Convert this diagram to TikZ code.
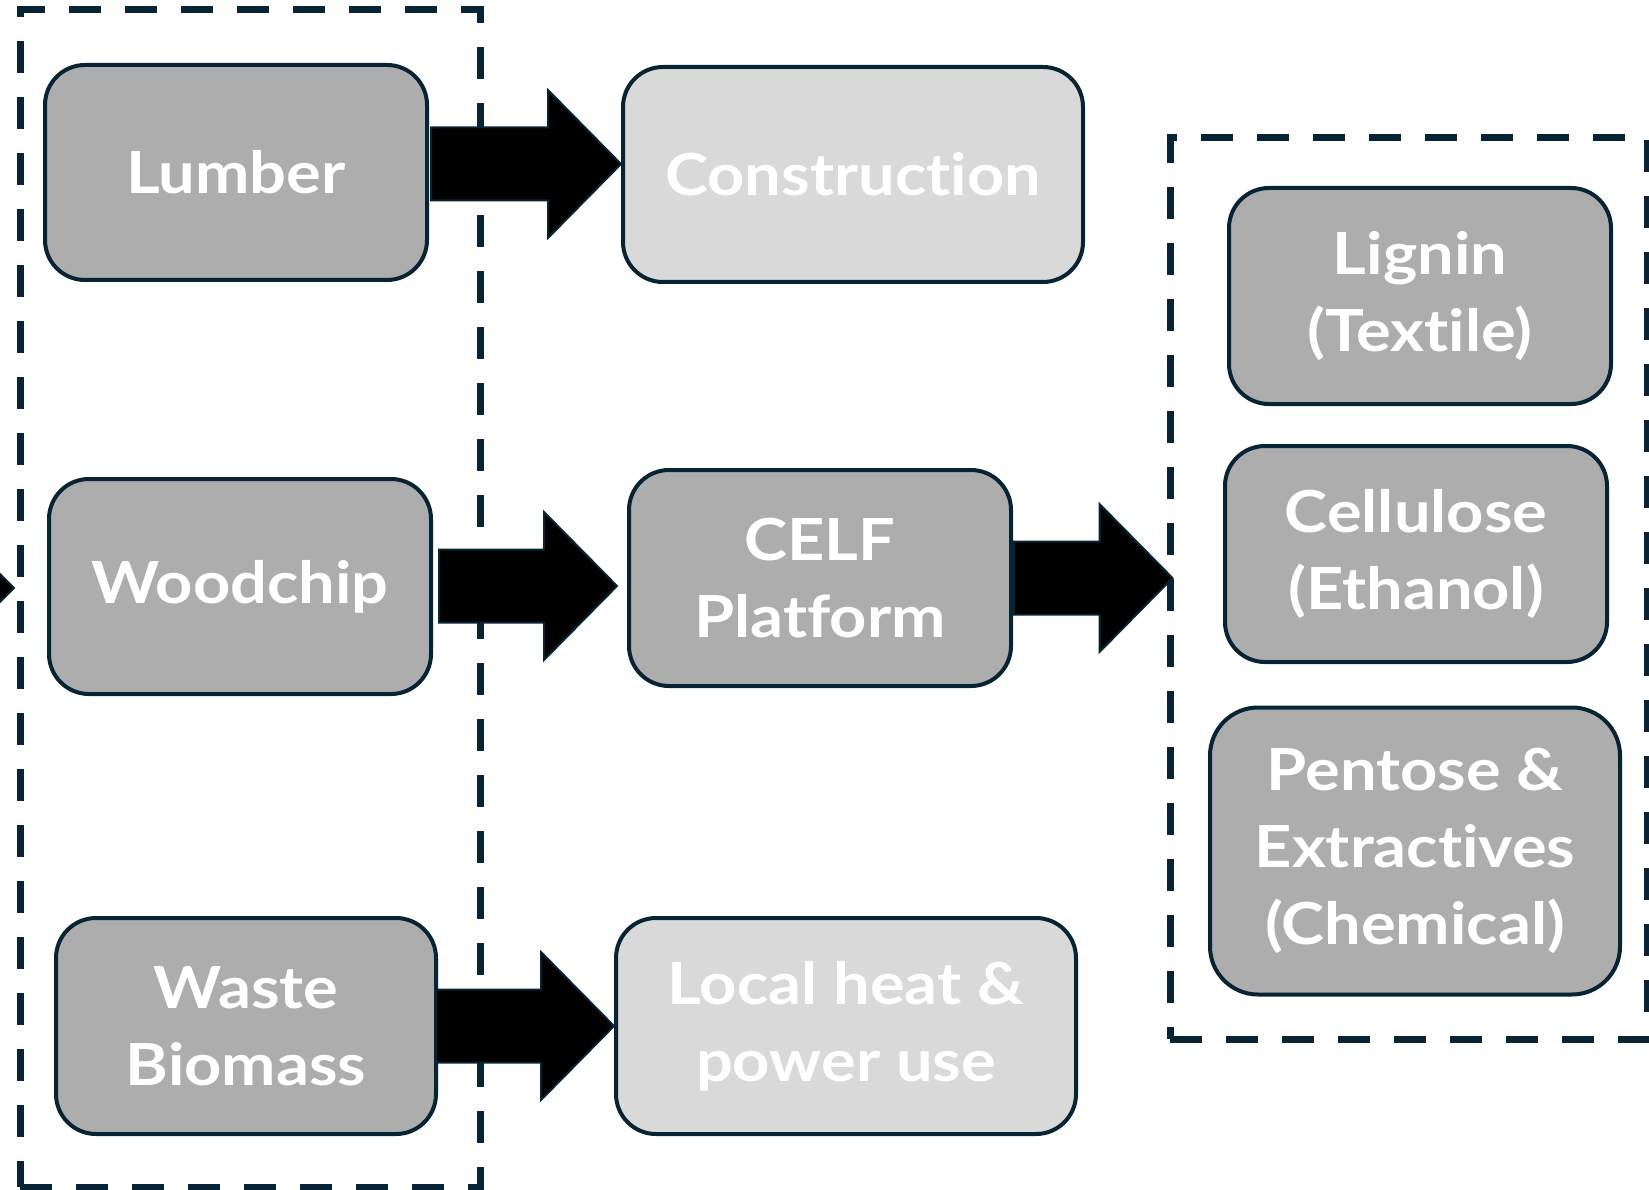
\documentclass[tikz,border=0pt]{standalone}
\usepackage{fontspec}
\setmainfont{Lato}[FakeStretch=1.12, Ligatures={NoCommon,NoRare}]
\usetikzlibrary{calc}
\definecolor{navy}{RGB}{8,36,52}
\definecolor{boxgray}{RGB}{173,173,173}
\definecolor{boxlight}{RGB}{217,217,217}
\tikzset{
 box/.style={draw=navy, line width=4pt, rounded corners=40pt, fill=boxgray, text=white,
   font=\bfseries\fontsize{58}{77}\selectfont, align=center, inner sep=0pt},
 lightbox/.style={box, fill=boxlight},
 groupbox/.style={draw=navy, line width=7pt, dash pattern=on 32pt off 24pt, inner sep=0pt},
 barrow/.style={fill=black, draw=navy, line width=2pt, line join=miter}
}
% #1 source, #2 target, #3 y centre, #4 tail shift, #5 tip shift
\newcommand\blockarr[5]{%
 \draw[barrow] ($(#1.east |- 0,#3-36.5)+(#4,0)$)
   -- ($(#2.west |- 0,#3-36.5)+(#5-73,0)$)
   -- ($(#2.west |- 0,#3-74)+(#5-73,0)$)
   -- ($(#2.west |- 0,#3)+(#5,0)$)
   -- ($(#2.west |- 0,#3+74)+(#5-73,0)$)
   -- ($(#2.west |- 0,#3+36.5)+(#5-73,0)$)
   -- ($(#1.east |- 0,#3+36.5)+(#4,0)$) -- cycle;}
\begin{document}
\begin{tikzpicture}[x=1pt,y=-1pt]
\useasboundingbox (0,0) rectangle (1649,1190);
\clip (0,0) rectangle (1649,1190);
% group frames
\node[groupbox, minimum width=460pt, minimum height=1177pt] (lgroup) at (250,598.5) {};
\node[groupbox, minimum width=477pt, minimum height=901pt] (rgroup) at (1408.5,588.5) {};
% boxes
\node[box, minimum width=382pt, minimum height=215pt] (lumber) at (236,172.5) {Lumber};
\node[lightbox, minimum width=460pt, minimum height=215pt] (constr) at (853,174.5) {Construction};
\node[box, minimum width=382pt, minimum height=215pt] (wood) at (240,586.5) {Woodchip};
\node[box, minimum width=382pt, minimum height=216pt] (celf) at (820,578) {CELF\\Platform};
\node[box, minimum width=380pt, minimum height=216pt] (waste) at (246,1026) {Waste\\Biomass};
\node[lightbox, minimum width=460pt, minimum height=216pt] (local) at (846,1026) {Local heat \&\\power use};
\node[box, minimum width=382pt, minimum height=216pt] (lignin) at (1420,296) {Lignin\\(Textile)};
\node[box, minimum width=382pt, minimum height=216pt] (cellu) at (1416,554) {Cellulose\\(Ethanol)};
\node[box, minimum width=410pt, minimum height=287pt, rounded corners=48pt] (pent) at (1415,851) {Pentose \&\\Extractives\\(Chemical)};
% arrows
\blockarr{lumber}{constr}{164}{2}{0}
\blockarr{wood}{celf}{586}{6}{-10}
\blockarr{celf}{rgroup}{578}{1}{6}
\blockarr{waste}{local}{1026}{-2}{0}
% incoming arrow tip at left edge
\coordinate (intip) at (14,588);
\draw[barrow] (-40,534) -- (intip) -- (-40,642) -- cycle;
\end{tikzpicture}
\end{document}
